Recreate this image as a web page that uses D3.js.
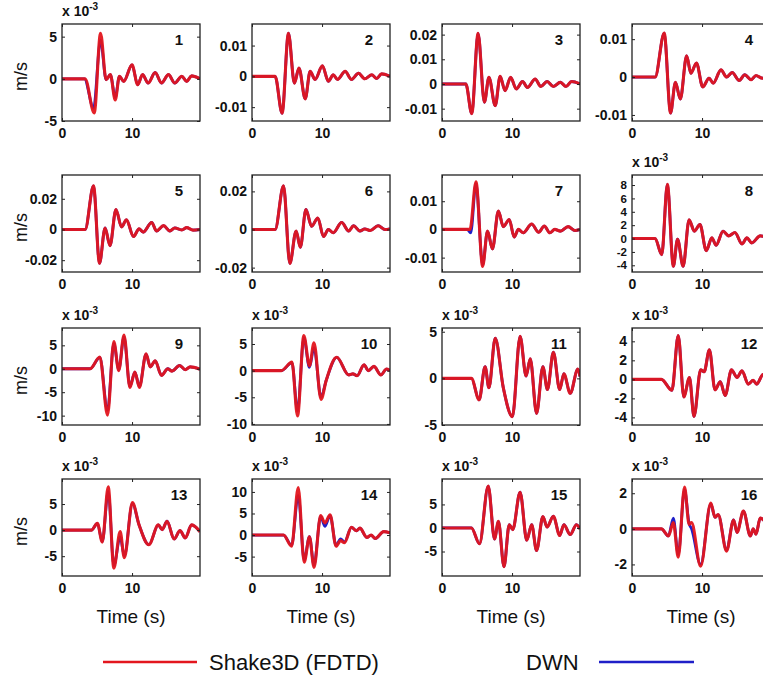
<!DOCTYPE html>
<html>
<head>
<meta charset="utf-8">
<script src="https://cdn.jsdelivr.net/npm/d3@7"></script>
<style>
body { margin: 0; background: #fff; }
text { font-family: "Liberation Sans", Arial, Helvetica, sans-serif; }
</style>
</head>
<body>
<svg id="fig" width="763" height="686"></svg>
<script>
// seismograms, [time (s), velocity in 10^-3 m/s]
var shake1 = [[0,0],[3.3,0],[4.6,-4.05],[5.5,5.4],[6.3,-0.1],[6.9,0.5],[7.6,-2.5],[8.2,0.3],[8.8,-0.3],[10,1.65],[10.8,-0.7],[11.5,0.5],[12.3,-0.5],[13.3,0.75],[14.2,-0.5],[15.2,0.5],[16.1,-0.5],[17.1,0.3],[17.8,-0.3],[18.5,0.35],[19.7,0]];
var shake2 = [[0,0],[3.3,0],[4.3,-12],[5.2,14],[6.05,-2.2],[6.7,2.7],[7.6,-7.3],[8.3,1.6],[9,-1],[10.05,3.4],[10.9,-1.6],[11.6,0.5],[12.2,-1],[13.3,1.6],[14.2,-1],[15.2,1],[16.1,-0.8],[17.1,0.5],[17.8,-0.7],[18.5,0.8],[19.7,0]];
var shake3 = [[0,0],[3.4,0],[4.25,-12],[5.15,20.5],[6.05,-7.4],[6.7,2.7],[7.6,-8.8],[8.3,3.1],[9,-2.7],[9.8,2.7],[10.6,-2],[11.5,1],[12.2,-1.4],[13.3,2],[14.1,-1],[15,1],[15.9,-1],[16.9,0.7],[17.7,-1],[18.5,1],[19.7,0]];
var shake4 = [[0,0],[3.3,0],[4.6,11.6],[5.5,-9.5],[6.2,-1.4],[6.9,-5.8],[7.8,5.6],[8.4,1],[9.2,3.7],[10.1,-2.6],[11,-0.3],[11.6,-1.6],[12.7,1.9],[13.5,0],[14.3,1.2],[15.3,-0.9],[16.1,0.6],[17,-0.7],[17.7,0.4],[18.6,-0.3],[19.7,0]];
var shake5 = [[0,0],[3.3,0],[4.5,28.4],[5.35,-22],[6.15,1],[6.85,-10.5],[7.7,13],[8.5,1.7],[9.2,6.3],[10.2,-4.6],[11,0.4],[11.6,-1.7],[12.8,4.6],[13.5,-1],[14.5,2.5],[15.4,-1],[16.1,1],[17.1,-0.3],[17.8,1.2],[18.7,-0.4],[19.7,0]];
var shake6 = [[0,0],[3.3,0],[4.5,22.9],[5.4,-17.8],[6.3,-0.8],[6.9,-9.3],[7.7,10.5],[8.5,1.7],[9.4,6],[10.2,-3.7],[10.9,0],[11.6,-1.7],[12.8,3.7],[13.8,-0.8],[14.5,2],[15.4,-0.8],[16.1,0.3],[16.9,-0.5],[18,2],[19,0],[19.7,0.3]];
var shake7 = [[0,0],[4,0],[4.85,16.9],[5.8,-13.1],[6.5,-0.6],[7.2,-6.9],[8.05,6.5],[8.75,1],[9.6,3.5],[10.3,-2.7],[10.9,0],[11.6,-1.2],[12.8,1.9],[13.8,-1],[14.6,1.2],[15.4,-1.2],[16.1,0],[16.9,-0.6],[18,1],[19,-0.4],[19.7,0]];
var shake8 = [[0,0],[3.3,0],[4.25,-2.4],[5.05,8.1],[5.9,-4.15],[6.5,-0.1],[7.3,-4.15],[8.15,2.8],[8.9,1.1],[9.7,2.1],[10.6,-1.8],[11.4,0.1],[12,-1],[13,1.1],[13.8,0.4],[14.7,0.9],[15.7,-0.8],[16.4,0.1],[17.1,-0.65],[18.3,0.4],[19.7,0]];
var shake9 = [[0,0],[4,0],[5.4,2.5],[6.5,-9.9],[7.4,5.8],[8.1,-0.4],[8.85,7.2],[9.7,-4],[10.4,-0.7],[11.05,-4],[12,3.2],[12.6,0.4],[13.3,1.7],[14.2,-1.4],[15.1,0],[15.7,-0.5],[16.8,0.7],[17.6,-0.2],[18.3,0.4],[19.7,-0.1]];
var shake10 = [[0,0],[4.2,0],[5.7,1.6],[6.5,-8.5],[7.4,6.6],[8.2,0.9],[8.85,5.2],[9.85,-5.4],[10.6,-1.8],[12.1,2.5],[13.8,-0.8],[14.4,-0.6],[15,-0.95],[16,1.1],[16.6,0],[17.4,0.8],[18.4,-0.8],[19.2,0.3],[19.7,0]];
var shake11 = [[0,0],[4.2,0],[5.3,-2.3],[6.15,1.25],[6.7,-1],[7.6,4.3],[8.75,-1],[10.05,-4.1],[11.15,4.5],[12,0.25],[12.6,2.1],[13.5,-3.75],[14.4,1.25],[15.05,-1.2],[15.9,2.8],[16.8,-1.2],[17.4,0.5],[18.3,-1.6],[19.4,1],[19.7,0.2]];
var shake12 = [[0,0],[4.2,0],[5.7,-1.15],[6.6,4.6],[7.4,-1.85],[8.2,0.2],[8.85,-3.9],[9.8,1],[10.3,0.8],[11.05,3.1],[11.85,-1.1],[12.6,-0.25],[13.3,-1.7],[14.2,1],[15,0.2],[15.7,0.9],[16.6,-0.5],[17.3,-0.1],[17.8,-0.5],[18.7,0.5],[19.7,0]];
var shake13 = [[0,0],[4.2,0],[5.05,1.3],[5.75,-2.3],[6.6,8.3],[7.4,-7.3],[8.3,-0.3],[8.9,-5.3],[10.05,5.3],[11,1],[12.4,-2.8],[13.75,1],[14.3,0.1],[15,1.7],[16,-1.7],[16.85,-0.1],[17.6,-1.5],[18.5,1],[19.7,-0.3]];
var shake14 = [[0,0],[4.5,0],[5.65,-2.6],[6.6,11],[7.45,-6.3],[8.2,-0.4],[8.85,-7.5],[9.8,4.5],[10.4,2.8],[11.15,4.7],[12,-2.6],[12.65,-1.3],[13.2,-1.8],[14.2,1.8],[14.9,1],[15.4,1.6],[16.4,-0.55],[17,0],[17.6,-0.8],[18.8,0.8],[19.7,0.5]];
var shake15 = [[0,0],[4.2,0],[5.35,-3.35],[6.6,8.9],[7.5,-2.35],[8.05,1.4],[8.85,-8.2],[9.6,0.7],[10.1,-0.35],[11.15,7.6],[12.1,-2.6],[12.8,0.7],[13.5,-4.8],[14.4,2.4],[15,0.2],[15.9,2.5],[16.8,-1.6],[17.4,0.7],[18.3,-1.4],[19.2,0.7],[19.7,-0.2]];
var shake16 = [[0,0],[4.2,0],[5.2,-0.4],[5.9,0.35],[6.6,-1.6],[7.5,2.35],[8.15,0.25],[8.5,0.35],[9.8,-2.1],[11.25,1.45],[11.85,0.65],[12.3,0.8],[13.5,-1.25],[14.5,0.5],[15,-0.2],[15.9,1],[16.9,-0.4],[17.3,0],[17.7,-0.3],[18.3,0.6],[19.7,0]];

// DWN traces only where they peek out from under the red ones
var dwn1 = [[0,0],[3.2,0],[4.5,-3.5],[5.5,4.6],[6.3,-0.1],[6.9,0.5],[7.6,-2.2],[8.2,0.3],[8.8,-0.3],[10,1.65],[10.8,-0.7],[11.5,0.5],[12.3,-0.5],[13.3,0.75],[14.2,-0.5],[15.2,0.5],[16.1,-0.5],[17.1,0.3],[17.8,-0.3],[18.5,0.35],[19.7,0]];
var dwn7 = [[0,0],[3.6,0],[4.1,-1.2],[4.85,16.3],[5.8,-12.6],[6.5,-0.6],[7.2,-6.9],[8.05,6.5],[8.75,1],[9.6,3.5],[10.3,-2.7],[10.9,0],[11.6,-1.2],[12.8,1.9],[13.8,-1],[14.6,1.2],[15.4,-1.2],[16.1,0],[16.9,-0.6],[18,1],[19,-0.4],[19.7,0]];
var dwn9 = [[0,0],[4,0],[5.4,2.4],[6.5,-8.9],[7.4,5.4],[8.1,-0.2],[8.85,6.8],[9.7,-3.8],[10.4,-0.7],[11.05,-3.8],[12,3.1],[12.6,0.4],[13.3,1.7],[14.2,-1.4],[15.1,0],[15.7,-0.5],[16.8,0.7],[17.6,-0.2],[18.3,0.4],[19.7,-0.1]];
var dwn10 = [[0,0],[4.2,0],[5.7,1.5],[6.5,-7.6],[7.4,6.2],[8.2,0.6],[8.85,4.3],[9.85,-5],[10.6,-1.8],[12.1,2.5],[13.8,-0.8],[14.4,-0.6],[15,-0.95],[16,1.1],[16.6,0],[17.4,0.8],[18.4,-0.8],[19.2,0.3],[19.7,0]];
var dwn13 = [[0,0],[4.2,0],[5.05,1.3],[5.75,-2.2],[6.6,7.4],[7.4,-6.8],[8.3,-1.3],[8.9,-5],[10.05,5.1],[11,1],[12.4,-2.8],[13.75,1],[14.3,0.1],[15,1.7],[16,-1.7],[16.85,-0.1],[17.6,-1.5],[18.5,1],[19.7,-0.3]];
var dwn14 = [[0,0],[4.5,0],[5.65,-2.4],[6.6,9.2],[7.45,-5.8],[8.2,-0.4],[8.85,-7],[9.8,4.3],[10.4,2],[11.15,4.5],[12,-2.4],[12.65,-0.9],[13.2,-1.6],[14.2,1.8],[14.9,1],[15.4,1.6],[16.4,-0.55],[17,0],[17.6,-0.8],[18.8,0.8],[19.7,0.5]];
var dwn16 = [[0,0],[4.2,0],[5.2,-0.4],[5.9,0.6],[6.6,-1.45],[7.5,2.2],[8.15,0.3],[8.5,0],[9.8,-2],[11.25,1.4],[11.85,0.65],[12.3,0.8],[13.5,-1.2],[14.5,0.5],[15,-0.2],[15.9,1],[16.9,-0.4],[17.3,0],[17.7,-0.3],[18.3,0.6],[19.7,0]];

var shakeSeries = [shake1, shake2, shake3, shake4, shake5, shake6, shake7, shake8, shake9, shake10, shake11, shake12, shake13, shake14, shake15, shake16];
var dwnSeries = [dwn1, shake2, shake3, shake4, shake5, shake6, dwn7, shake8, dwn9, dwn10, shake11, shake12, dwn13, dwn14, shake15, dwn16];

var yDomains = [[-5,6.5],[-14.5,17],[-15,24.3],[-11.6,14],[-27.7,35.5],[-22.3,28.6],[-15.1,19.3],[-5,9.5],
                [-12,8.7],[-10.2,8],[-5,5.4],[-4.8,5.4],[-8.8,9.8],[-9.5,13],[-10.2,10.4],[-2.65,2.8]];
var yTicks = [[-5,0,5],[-10,0,10],[-10,0,10,20],[-10,0,10],[-20,0,20],[-20,0,20],[-10,0,10],[-4,-2,0,2,4,6,8],
              [-10,-5,0,5],[-10,-5,0,5],[-5,0,5],[-4,-2,0,2,4],[-5,0,5],[-5,0,5,10],[-5,0,5],[-2,0,2]];
// panels labelled "x 10^-3"; the others show plain m/s
var scaled = [true,false,false,false,false,false,false,true,true,true,true,true,true,true,true,true];
var xTicks = [0, 10];
var tMax = 19.7;

var colLeft = [62, 252, 442, 632];
var rowTop = [24, 175, 328, 479];
var boxW = 138, boxH = 97;
var red = "#e3161e", blue = "#1f1fc8";

var svg = d3.select("#fig");

function styleAxis(g, size){
    g.select(".domain").remove();
    g.selectAll("line").attr("stroke", "#222").attr("stroke-width", 1);
    g.selectAll("text").attr("font-size", size || 14).attr("font-weight", "bold").attr("fill", "#111")
        .attr("font-family", "'Liberation Sans', Arial, sans-serif");
}

for (var i = 0; i < 16; i++){
    var L = colLeft[i % 4];
    var T = rowTop[Math.floor(i / 4)];
    var x = d3.scaleLinear().domain([0, tMax]).range([L, L + boxW]);
    var y = d3.scaleLinear().domain(yDomains[i]).range([T + boxH, T]);
    var plain = !scaled[i];
    var fmt = function(p){ return function(d){ return p ? String(d / 1000) : String(d); }; }(plain);
    // panel 8 has many ticks close together, so smaller digits there
    var tickSize = yTicks[i].length > 5 ? 11.5 : 14;

    var g = svg.append("g");

    g.append("clipPath").attr("id", "clip" + i)
        .append("rect").attr("x", L).attr("y", T).attr("width", boxW).attr("height", boxH);

    var line = d3.line().curve(d3.curveMonotoneX)
        .x(function(d){ return x(d[0]); })
        .y(function(d){ return y(d[1]); });

    g.append("path").datum(dwnSeries[i]).attr("d", line).attr("clip-path", "url(#clip" + i + ")")
        .attr("fill", "none").attr("stroke", blue).attr("stroke-width", 2.8);
    g.append("path").datum(shakeSeries[i]).attr("d", line).attr("clip-path", "url(#clip" + i + ")")
        .attr("fill", "none").attr("stroke", red).attr("stroke-width", 3.1).attr("stroke-opacity", 0.95);

    g.append("g").attr("transform", "translate(" + L + ",0)")
        .call(d3.axisLeft(y).tickValues(yTicks[i]).tickSize(-3).tickPadding(5).tickFormat(fmt))
        .call(styleAxis, tickSize);
    g.append("g").attr("transform", "translate(" + (L + boxW) + ",0)")
        .call(d3.axisRight(y).tickValues(yTicks[i]).tickSize(-3).tickFormat(""))
        .call(styleAxis);
    g.append("g").attr("transform", "translate(0," + (T + boxH) + ")")
        .call(d3.axisBottom(x).tickValues(xTicks).tickSize(-3).tickPadding(7).tickFormat(d3.format("d")))
        .call(styleAxis);
    g.append("g").attr("transform", "translate(0," + T + ")")
        .call(d3.axisTop(x).tickValues(xTicks).tickSize(-3).tickFormat(""))
        .call(styleAxis);

    g.append("rect").attr("x", L).attr("y", T).attr("width", boxW).attr("height", boxH)
        .attr("fill", "none").attr("stroke", "#222").attr("stroke-width", 1.3);

    g.append("text").attr("x", L + 117).attr("y", T + 21).attr("text-anchor", "middle")
        .attr("font-size", 15).attr("font-weight", "bold").attr("fill", "#111").text(i + 1);

    if (scaled[i]){
        var ex = g.append("text").attr("x", L).attr("y", T - 8)
            .attr("font-size", 14).attr("font-weight", "bold").attr("fill", "#111");
        ex.append("tspan").text("x 10");
        ex.append("tspan").attr("dy", -6).attr("font-size", 10).text("-3");
    }

    if (i % 4 == 0){
        svg.append("text").attr("transform", "translate(27," + (T + boxH / 2 + 4) + ") rotate(-90)")
            .attr("text-anchor", "middle").attr("font-size", 18).attr("fill", "#111").text("m/s");
    }
    if (i >= 12){
        svg.append("text").attr("x", L + boxW / 2).attr("y", T + boxH + 47).attr("text-anchor", "middle")
            .attr("font-size", 19).attr("fill", "#111").text("Time (s)");
    }
}

// legend
var legY = 662;
svg.append("line").attr("x1", 103).attr("x2", 197).attr("y1", legY).attr("y2", legY)
    .attr("stroke", red).attr("stroke-width", 2.6);
svg.append("text").attr("x", 209).attr("y", legY + 8).attr("font-size", 22).attr("fill", "#111").text("Shake3D (FDTD)");
svg.append("text").attr("x", 526).attr("y", legY + 8).attr("font-size", 22).attr("fill", "#111").text("DWN");
svg.append("line").attr("x1", 599).attr("x2", 694).attr("y1", legY).attr("y2", legY)
    .attr("stroke", blue).attr("stroke-width", 2.6);
</script>
</body>
</html>
